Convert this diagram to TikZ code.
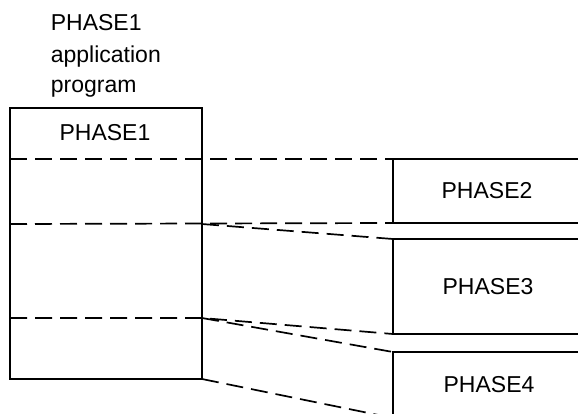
\documentclass[tikz,border=0pt]{standalone}
\usepackage{fontspec}
\setmainfont{Liberation Sans}
\tikzset{
  seg/.style={dash pattern=on 17pt off 8pt},
  lbl/.style={font=\fontsize{23}{31}\selectfont, inner sep=0pt},
}
\begin{document}
\begin{tikzpicture}[x=1pt,y=-1pt,line width=1.7pt]
\useasboundingbox (0,0) rectangle (578,413);
\clip (0,0) rectangle (578,413);
% corners of the PHASE1 program and of the overlays
\coordinate (a0) at (10,159);
\coordinate (a1) at (10,224);
\coordinate (a2) at (10,318);
\coordinate (b0) at (202,159);
\coordinate (b1) at (202,224);
\coordinate (b2) at (202,318);
\coordinate (b3) at (202,379);
\coordinate (p2t) at (393,159);
\coordinate (p2b) at (393,223);
\coordinate (p3t) at (393,239);
\coordinate (p3b) at (393,334);
\coordinate (p4t) at (393,352);
\coordinate (p4b) at (393,418);
% heading
\node[lbl,anchor=base west] (head1) at (50,30) {PHASE1};
\node[lbl,anchor=base west] (head2) at (50,62) {application};
\node[lbl,anchor=base west] (head3) at (50,92) {program};
% PHASE1 program
\draw (10,108) rectangle (202,379);
\node[lbl] (ph1) at (105,133) {PHASE1};
% overlays
\draw (578,159) -- (p2t) -- (p2b) -- (578,223);
\node[lbl] (ph2) at (487,191) {PHASE2};
\draw (578,239) -- (p3t) -- (p3b) -- (578,334);
\node[lbl] (ph3) at (488,287) {PHASE3};
\draw (578,352) -- (p4t) -- (p4b);
\node[lbl] (ph4) at (489,385) {PHASE4};
% overlay area
\draw[seg] (a0) -- (p2t);
\draw[seg] (a1) -- (p2b);
\draw[seg] (b1) -- (p3t);
\draw[seg] (a2) -- (b2) -- (p3b);
\draw[seg] (b2) -- (p4t);
\draw[seg] (b3) -- (p4b);
\end{tikzpicture}
\end{document}
